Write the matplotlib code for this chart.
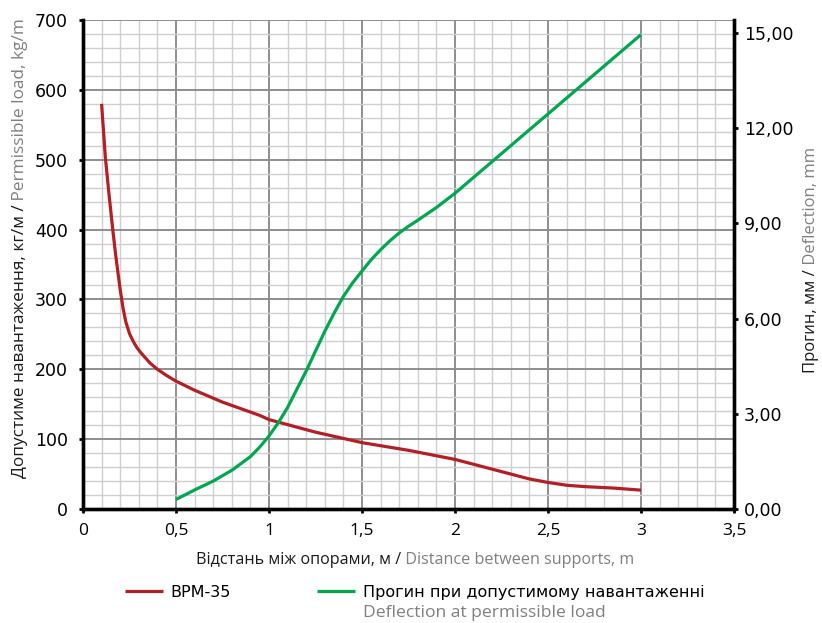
import matplotlib

matplotlib.use("Agg")
import matplotlib.pyplot as plt
from matplotlib.ticker import FixedLocator, MultipleLocator, FuncFormatter

# Допустиме навантаження, кг/м
load_x = [0.1, 0.12, 0.14, 0.16, 0.175, 0.19, 0.2, 0.215, 0.23, 0.25, 0.27,
          0.29, 0.31, 0.36, 0.4, 0.45, 0.5, 0.6, 0.75, 0.95, 1.0, 1.18,
          1.25, 1.5, 1.75, 2.0, 2.1, 2.2, 2.3, 2.4, 2.5, 2.6, 2.7, 2.85, 3.0]
load_y = [580, 504, 450, 400, 365, 334, 314, 288, 268, 251, 240,
          231, 224, 209, 200, 191, 183, 170, 153, 134, 128, 115,
          110, 95, 84, 71, 64, 57, 50, 43, 38, 34, 32, 30, 27]

# Прогин, мм
defl_x = [0.5, 0.6, 0.7, 0.8, 0.9, 0.95, 1.0, 1.05, 1.1, 1.2, 1.3, 1.35,
          1.4, 1.45, 1.5, 1.55, 1.6, 1.65, 1.7, 1.75, 1.8, 1.9, 2.0, 2.25,
          2.5, 2.75, 3.0]
defl_y = [0.3, 0.6, 0.88, 1.22, 1.65, 1.95, 2.3, 2.72, 3.2, 4.35, 5.6, 6.17,
          6.7, 7.13, 7.5, 7.86, 8.17, 8.45, 8.7, 8.91, 9.1, 9.5, 9.95, 11.2,
          12.45, 13.7, 14.95]

x_ticks = [0, 0.5, 1, 1.5, 2, 2.5, 3, 3.5]
left_ticks = [0, 100, 200, 300, 400, 500, 600, 700]
right_ticks = [0, 3, 6, 9, 12, 15]

RED = "#b21f24"
GREEN = "#00a650"
GREY = "#808080"
W, H = 822, 623


def comma(v, pos=None, digits=None):
    if digits:
        return f"{v:.{digits}f}".replace(".", ",")
    return f"{v:g}".replace(".", ",")


def two_tone(fig, cx, cy, parts, rotation=0, **kw):
    # кладемо частини підпису поруч, центр у (cx, cy) в пікселях
    renderer = fig.canvas.get_renderer()
    texts = [fig.text(0, 0, s, color=c, rotation=rotation,
                      ha="left", va="center" if rotation == 0 else "bottom",
                      rotation_mode="anchor" if rotation else "default", **kw)
             for s, c in parts]
    sizes = []
    for t in texts:
        bb = t.get_window_extent(renderer)
        sizes.append(bb.width if rotation == 0 else bb.height)
    pos = -sum(sizes) / 2
    for t, s in zip(texts, sizes):
        if rotation == 0:
            t.set_position(((cx + pos) / W, 1 - cy / H))
        else:
            t.set_ha("left")
            t.set_va("center")
            t.set_position((cx / W, 1 - (cy - pos) / H))
        pos += s
    return texts


fig = plt.figure(figsize=(W / 100, H / 100), dpi=100)
ax = fig.add_axes([83 / W, 1 - 509 / H, (734 - 83) / W, (509 - 20) / H])
ax2 = ax.twinx()

(l1,) = ax.plot(load_x, load_y, color=RED, linewidth=2.3, solid_capstyle="butt")
(l2,) = ax2.plot(defl_x, defl_y, color=GREEN, linewidth=2.3, solid_capstyle="butt")

ax.set_xlim(0, 3.5)
ax.set_ylim(0, 700)
ax2.set_ylim(0, 15.41)

ax.xaxis.set_major_locator(FixedLocator(x_ticks))
ax.xaxis.set_minor_locator(MultipleLocator(0.1))
ax.yaxis.set_major_locator(FixedLocator(left_ticks))
ax.yaxis.set_minor_locator(MultipleLocator(20))
ax2.yaxis.set_major_locator(FixedLocator(right_ticks))

ax.xaxis.set_major_formatter(FuncFormatter(comma))
ax2.yaxis.set_major_formatter(FuncFormatter(lambda v, p: comma(v, p, 2)))

ax.grid(which="minor", color="#cfcfcf", linewidth=1.0)
ax.grid(which="major", color="#8e8e8e", linewidth=1.4)
ax.set_axisbelow(True)

for a in (ax, ax2):
    a.spines["top"].set_visible(False)
    for side in ("left", "right", "bottom"):
        a.spines[side].set_color("black")
        a.spines[side].set_linewidth(2.4)

ax.tick_params(which="minor", length=0)
ax.tick_params(axis="y", which="major", length=3, width=2, pad=8,
               labelsize=12.5, colors="black")
ax.tick_params(axis="x", which="major", length=3, width=2, pad=7,
               labelsize=12.5, colors="black")
ax2.tick_params(axis="y", length=3, width=2, pad=4, labelsize=12.5)
for lab in ax.get_xticklabels():
    lab.set_family("Open Sans")

two_tone(fig, 415, 560,
         [("Відстань між опорами, м /", "#1a1a1a"),
          (" Distance between supports, m", GREY)],
         family="Open Sans", fontsize=11.65)
two_tone(fig, 20, 248,
         [("Допустиме навантаження, кг/м /", "#1a1a1a"),
          (" Permissible load, kg/m", GREY)],
         rotation=90, family="Open Sans", fontsize=12.4)
two_tone(fig, 811, 260,
         [("Прогин, мм /", "#1a1a1a"), (" Deflection, mm", GREY)],
         rotation=90, family="Open Sans", fontsize=12.0)

leg = fig.legend([l1, l2], ["ВРМ-35", "Прогин при допустимому навантаженні"],
                 loc="upper left", bbox_to_anchor=(125 / W, 1 - 585 / H),
                 ncol=2, frameon=False, fontsize=11.5, borderpad=0,
                 borderaxespad=0, handlelength=2.4, handletextpad=0.45,
                 columnspacing=5.4)
fig.canvas.draw()
ax.annotate("Deflection at permissible load", xy=(0, 0),
            xycoords=leg.get_texts()[1], xytext=(0, -3.5),
            textcoords="offset points", ha="left", va="top",
            color=GREY, family="Open Sans", fontsize=12.6,
            annotation_clip=False)

fig.savefig("out.png", dpi=100)
